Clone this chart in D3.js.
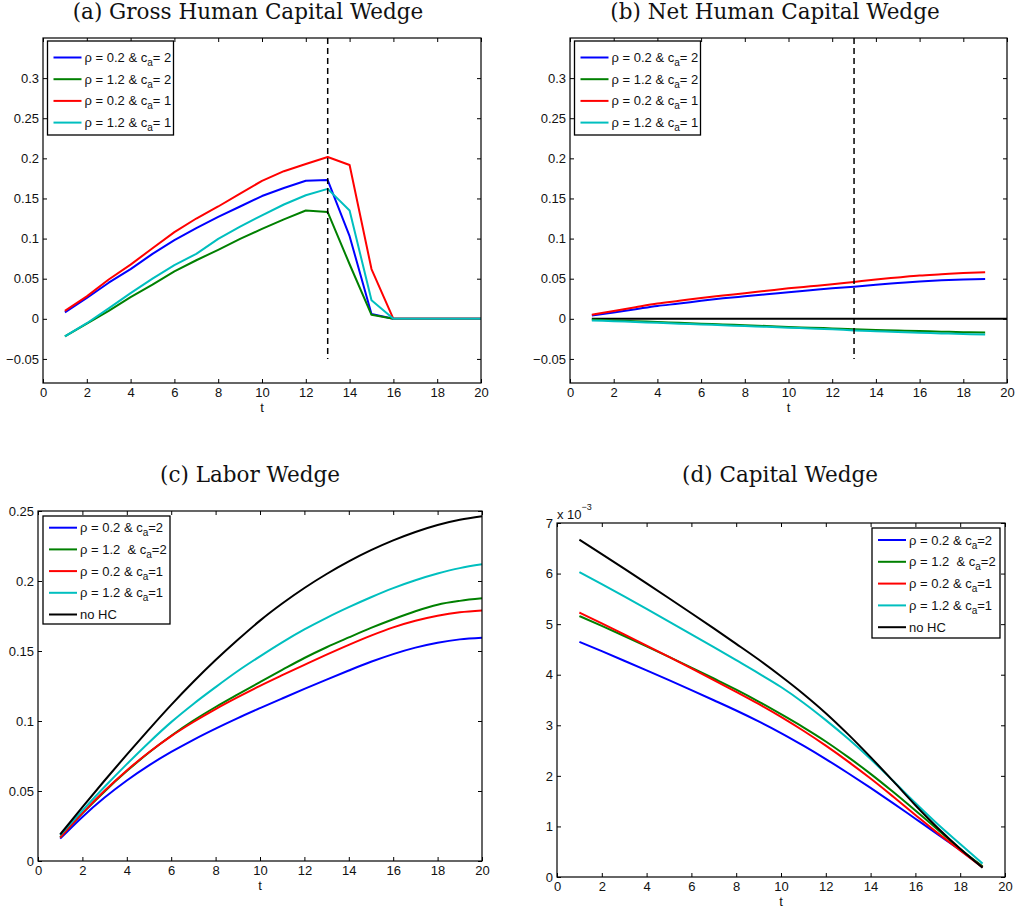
<!DOCTYPE html>
<meta charset="utf-8">
<style>
body { margin: 0; background: #fff; }
svg { font-family: "Liberation Sans", Arial, sans-serif; }
.tick text { font-family: "Liberation Sans", Arial, sans-serif; font-size: 13px; fill: #111; }
.tick line { stroke: #000; }
.title { font-family: "DejaVu Serif", serif; font-size: 21.5px; fill: #111; }
.legend text { font-family: "Liberation Sans", Arial, sans-serif; font-size: 13px; fill: #111; white-space: pre; }
.line { fill: none; stroke-width: 2; stroke-linejoin: round; }
</style>
<body>
<script src="https://cdn.jsdelivr.net/npm/d3@7"></script>
<script>
// time periods
var t20 = [1,2,3,4,5,6,7,8,9,10,11,12,13,14,15,16,17,18,19,20];
var t19 = [1,2,3,4,5,6,7,8,9,10,11,12,13,14,15,16,17,18,19];

// (a) gross human capital wedge
var grossBlue  = [0.008,0.026,0.045,0.062,0.081,0.098,0.113,0.127,0.140,0.153,0.163,0.172,0.173,0.103,0.006,0,0,0,0,0];
var grossGreen = [-0.022,-0.006,0.010,0.027,0.0425,0.059,0.073,0.086,0.0996,0.112,0.124,0.135,0.133,0.068,0.005,0,0,0,0,0];
var grossRed   = [0.010,0.028,0.049,0.0675,0.088,0.108,0.125,0.140,0.156,0.172,0.184,0.193,0.2017,0.1917,0.062,0,0,0,0,0];
var grossCyan  = [-0.022,-0.0055,0.013,0.032,0.050,0.067,0.081,0.0996,0.115,0.129,0.1425,0.154,0.162,0.135,0.023,0,0,0,0,0];

// (b) net human capital wedge
var netBlue  = [0.004,0.008,0.012,0.016,0.019,0.0225,0.0255,0.028,0.0305,0.033,0.0355,0.038,0.040,0.0425,0.0445,0.0465,0.048,0.049,0.0496];
var netGreen = [-0.001,-0.002,-0.003,-0.004,-0.005,-0.006,-0.007,-0.008,-0.009,-0.0102,-0.011,-0.012,-0.013,-0.0138,-0.0146,-0.0153,-0.016,-0.0166,-0.017];
var netRed   = [0.005,0.0098,0.0145,0.019,0.0225,0.026,0.029,0.032,0.035,0.038,0.0405,0.043,0.046,0.049,0.0515,0.054,0.0555,0.057,0.058];
var netCyan  = [-0.002,-0.003,-0.004,-0.005,-0.006,-0.007,-0.008,-0.009,-0.010,-0.011,-0.012,-0.013,-0.0145,-0.0155,-0.0165,-0.0173,-0.0182,-0.019,-0.0197];
var netZeroT = [1,20];
var netZero  = [0,0];

// (c) labor wedge
var laborBlue  = [0.016,0.0315,0.0453,0.0575,0.0683,0.0779,0.0866,0.0946,0.1021,0.1092,0.1161,0.1229,0.1296,0.1361,0.1423,0.1478,0.1524,0.1559,0.1583,0.1595];
var laborGreen = [0.017,0.034,0.0497,0.0642,0.0775,0.0895,0.1003,0.110,0.119,0.1278,0.1365,0.145,0.1527,0.1597,0.1665,0.1727,0.1784,0.1831,0.1858,0.1876];
var laborRed   = [0.0167,0.0342,0.0502,0.0647,0.0777,0.0892,0.0993,0.1085,0.117,0.1251,0.1327,0.1401,0.1474,0.1544,0.161,0.1669,0.1716,0.1752,0.1777,0.179];
var laborCyan  = [0.0185,0.036,0.053,0.0692,0.0847,0.0992,0.1122,0.1242,0.1357,0.1462,0.1562,0.1654,0.1737,0.1813,0.1884,0.1949,0.2005,0.2053,0.2092,0.2119];
var laborBlack = [0.019,0.0385,0.0575,0.076,0.094,0.1115,0.128,0.1435,0.158,0.1717,0.1839,0.195,0.205,0.214,0.222,0.229,0.235,0.240,0.2437,0.2463];

// (d) capital wedge, in units of 10^-3
var capBlue  = [4.65,4.465,4.277,4.086,3.892,3.695,3.495,3.292,3.077,2.847,2.597,2.332,2.052,1.762,1.462,1.152,0.842,0.532,0.20];
var capGreen = [5.16,4.965,4.765,4.561,4.353,4.141,3.925,3.705,3.47,3.22,2.96,2.68,2.37,2.04,1.685,1.315,0.935,0.555,0.21];
var capRed   = [5.23,5.015,4.797,4.576,4.352,4.125,3.895,3.662,3.422,3.167,2.892,2.597,2.282,1.947,1.592,1.227,0.867,0.527,0.19];
var capCyan  = [6.03,5.79,5.547,5.301,5.052,4.80,4.545,4.287,4.027,3.757,3.447,3.102,2.732,2.332,1.902,1.462,1.042,0.652,0.265];
var capBlack = [6.67,6.385,6.097,5.806,5.512,5.215,4.915,4.61,4.30,3.97,3.62,3.24,2.82,2.37,1.90,1.42,0.97,0.56,0.185];

// ticks
var xTicks = [0,2,4,6,8,10,12,14,16,18,20];
var hcTicks = [-0.05,0,0.05,0.1,0.15,0.2,0.25,0.3];
var laborTicks = [0,0.05,0.1,0.15,0.2,0.25];
var capTicks = [0,1,2,3,4,5,6,7];

var legend4 = ["ρ = 0.2 & c_a= 2","ρ = 1.2 & c_a= 2","ρ = 0.2 & c_a= 1","ρ = 1.2 & c_a= 1"];
var legend5 = ["ρ = 0.2 & c_a=2","ρ = 1.2  & c_a=2","ρ = 0.2 & c_a=1","ρ = 1.2 & c_a=1","no HC"];

var blue = "#0000ff", green = "#008000", red = "#ff0000", cyan = "#00bfbf", black = "#000000";

var svg = d3.select("body").append("svg")
    .attr("width", 1016)
    .attr("height", 911);

function drawPanel(p) {
  var x = d3.scaleLinear().domain([0, 20]).range([p.left, p.right]);
  var y = d3.scaleLinear().domain(p.ydomain).range([p.bottom, p.top]);
  var g = svg.append("g");
  var fmt = d3.format("~g");

  // title
  g.append("text").attr("class", "title")
    .attr("x", p.titleX).attr("y", p.titleY)
    .attr("text-anchor", "middle")
    .text(p.title);

  // axes, ticks inside on all four sides
  g.append("g").attr("transform", "translate(0," + p.bottom + ")")
    .call(d3.axisBottom(x).tickValues(xTicks).tickSize(-4).tickPadding(p.xpad).tickFormat(fmt))
    .call(function(a) { a.select(".domain").remove(); });
  g.append("g").attr("transform", "translate(0," + p.top + ")")
    .call(d3.axisTop(x).tickValues(xTicks).tickSize(-4).tickFormat(""))
    .call(function(a) { a.select(".domain").remove(); });
  g.append("g").attr("transform", "translate(" + p.left + ",0)")
    .call(d3.axisLeft(y).tickValues(p.yticks).tickSize(-4).tickPadding(4).tickFormat(fmt))
    .call(function(a) { a.select(".domain").remove(); });
  g.append("g").attr("transform", "translate(" + p.right + ",0)")
    .call(d3.axisRight(y).tickValues(p.yticks).tickSize(-4).tickFormat(""))
    .call(function(a) { a.select(".domain").remove(); });

  g.append("text")
    .attr("x", (p.left + p.right) / 2).attr("y", p.tY)
    .attr("text-anchor", "middle")
    .style("font-size", "13px").style("fill", "#111")
    .text("t");

  // series
  var line = d3.line()
    .curve(p.smooth ? d3.curveMonotoneX : d3.curveLinear)
    .x(function(d) { return x(d[0]); })
    .y(function(d) { return y(d[1]); });

  if (p.hline) {
    g.append("path").attr("class", "line")
      .attr("stroke", black)
      .attr("d", line(d3.zip(p.hline[0], p.hline[1])));
  }

  p.series.forEach(function(s) {
    g.append("path").attr("class", "line")
      .attr("stroke", s.color)
      .attr("d", line(d3.zip(s.t, s.v)));
  });

  if (p.vline) {
    g.append("line")
      .attr("x1", x(p.vline)).attr("x2", x(p.vline))
      .attr("y1", y(p.vtop)).attr("y2", y(-0.05))
      .attr("stroke", "#000").attr("stroke-width", 1.5)
      .attr("stroke-dasharray", "6,4");
  }

  // box
  g.append("rect")
    .attr("x", p.left).attr("y", p.top)
    .attr("width", p.right - p.left).attr("height", p.bottom - p.top)
    .attr("fill", "none").attr("stroke", "#000").attr("stroke-width", 1.2);

  // legend
  var lg = g.append("g").attr("class", "legend");
  lg.append("rect")
    .attr("x", p.lg.x).attr("y", p.lg.y)
    .attr("width", p.lg.w).attr("height", p.lg.h)
    .attr("fill", "#fff").attr("stroke", "#000").attr("stroke-width", 1.3);
  p.series.forEach(function(s, i) {
    var yy = p.lg.y + p.lg.first + i * p.lg.step;
    lg.append("line")
      .attr("x1", p.lg.x + 6).attr("x2", p.lg.x + 34)
      .attr("y1", yy).attr("y2", yy)
      .attr("stroke", s.color).attr("stroke-width", 2);
    var parts = s.label.split("_a");
    var txt = lg.append("text").attr("x", p.lg.x + 37).attr("y", yy + 4.5);
    txt.append("tspan").text(parts[0]);
    if (parts.length > 1) {
      txt.append("tspan").attr("dy", 4).style("font-size", "10px").text("a");
      txt.append("tspan").attr("dy", -4).text(parts[1]);
    }
  });
}

drawPanel({
  title: "(a) Gross Human Capital Wedge", titleX: 248, titleY: 19,
  left: 43, right: 481, top: 38, bottom: 383, ydomain: [-0.08, 0.35], yticks: hcTicks,
  xpad: 5, tY: 412, vline: 13, vtop: 0.35, smooth: false,
  lg: {x: 47.5, y: 41, w: 126, h: 94, first: 16.5, step: 21.7},
  series: [
    {t: t20, v: grossBlue, color: blue, label: legend4[0]},
    {t: t20, v: grossGreen, color: green, label: legend4[1]},
    {t: t20, v: grossRed, color: red, label: legend4[2]},
    {t: t20, v: grossCyan, color: cyan, label: legend4[3]}
  ]
});

drawPanel({
  title: "(b) Net Human Capital Wedge", titleX: 775, titleY: 19,
  left: 570, right: 1007, top: 38, bottom: 383, ydomain: [-0.08, 0.35], yticks: hcTicks,
  xpad: 5, tY: 412, vline: 13, vtop: 0.35, hline: [netZeroT, netZero], smooth: true,
  lg: {x: 574.5, y: 41, w: 126, h: 94, first: 16.5, step: 21.7},
  series: [
    {t: t19, v: netBlue, color: blue, label: legend4[0]},
    {t: t19, v: netGreen, color: green, label: legend4[1]},
    {t: t19, v: netRed, color: red, label: legend4[2]},
    {t: t19, v: netCyan, color: cyan, label: legend4[3]}
  ]
});

drawPanel({
  title: "(c) Labor Wedge", titleX: 250, titleY: 482,
  left: 38, right: 482, top: 511, bottom: 861, ydomain: [0, 0.25], yticks: laborTicks,
  xpad: 5, tY: 890, smooth: true,
  lg: {x: 43, y: 516, w: 127, h: 108, first: 11.7, step: 21.7},
  series: [
    {t: t20, v: laborBlue, color: blue, label: legend5[0]},
    {t: t20, v: laborGreen, color: green, label: legend5[1]},
    {t: t20, v: laborRed, color: red, label: legend5[2]},
    {t: t20, v: laborCyan, color: cyan, label: legend5[3]},
    {t: t20, v: laborBlack, color: black, label: legend5[4]}
  ]
});

drawPanel({
  title: "(d) Capital Wedge", titleX: 780, titleY: 482,
  left: 557, right: 1005, top: 523, bottom: 877, ydomain: [0, 7], yticks: capTicks,
  xpad: 5, tY: 906, smooth: true,
  lg: {x: 872, y: 528, w: 128, h: 110, first: 12, step: 21.8},
  series: [
    {t: t19, v: capBlue, color: blue, label: legend5[0]},
    {t: t19, v: capGreen, color: green, label: legend5[1]},
    {t: t19, v: capRed, color: red, label: legend5[2]},
    {t: t19, v: capCyan, color: cyan, label: legend5[3]},
    {t: t19, v: capBlack, color: black, label: legend5[4]}
  ]
});

// exponent label for panel (d)
var expo = svg.append("text").attr("x", 557).attr("y", 519)
  .style("font-size", "13px").style("fill", "#111");
expo.append("tspan").text("x 10");
expo.append("tspan").attr("dy", -9).style("font-size", "9px").text("−3");
</script>
</body>
